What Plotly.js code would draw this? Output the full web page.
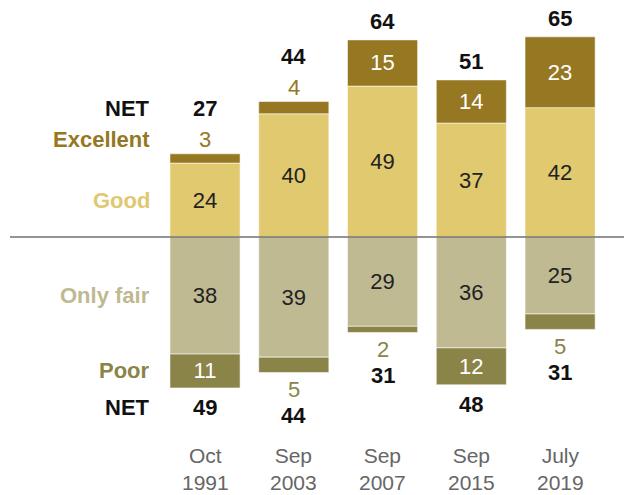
<!DOCTYPE html>
<html>
<head>
<meta charset="utf-8">
<script src="https://cdn.plot.ly/plotly-3.0.1.min.js"></script>
<style>html,body{margin:0;padding:0;background:#fff;}#chart{width:624px;height:495px;}</style>
</head>
<body>
<div id="chart"></div>
<script>
// ---- data ----
var months = ["Oct", "Sep", "Sep", "Sep", "July"];
var years = ["1991", "2003", "2007", "2015", "2019"];
var excellent = [3, 4, 15, 14, 23];
var good = [24, 40, 49, 37, 42];
var onlyFair = [38, 39, 29, 36, 25];
var poor = [11, 5, 2, 12, 5];
var netPositive = [27, 44, 64, 51, 65];
var netNegative = [49, 44, 31, 48, 31];

// ---- styles ----
var FONT = "Liberation Sans, Arial, sans-serif";
var C_EXC = "#967823", C_GOOD = "#E0C96E", C_FAIR = "#C0BA92", C_POOR = "#8B8449";
var C_EXC_T = "#957821", C_POOR_T = "#8A8448";
var FS = 22;
var MIN_INSIDE = 10;

var xs = months.map(function (_, i) { return i; });
var neg = function (a) { return a.map(function (v) { return -v; }); };
var insideText = function (a) { return a.map(function (v) { return v >= MIN_INSIDE ? String(v) : " "; }); };

function barTrace(name, vals, color, textColor, isNeg) {
  return {
    type: "bar", name: name, x: xs, y: isNeg ? neg(vals) : vals.slice(),
    marker: { color: color, line: { color: "rgba(255,255,255,0.55)", width: 1 } },
    text: insideText(vals), textposition: "inside", insidetextanchor: "middle",
    textfont: { family: FONT, size: FS, color: textColor },
    hoverinfo: "skip"
  };
}

var traces = [
  barTrace("Good", good, C_GOOD, "#222", false),
  barTrace("Excellent", excellent, C_EXC, "#fff", false),
  barTrace("Only fair", onlyFair, C_FAIR, "#222", true),
  barTrace("Poor", poor, C_POOR, "#fff", true)
];

var ann = [];
function addLabel(x, y, text, color, bold, shift, xanchor) {
  ann.push({
    x: x, y: y, xref: "x", yref: "y", text: bold ? "<b>" + text + "</b>" : text,
    showarrow: false, yshift: shift, xanchor: xanchor || "center", yanchor: "middle",
    font: { family: FONT, size: FS, color: color }
  });
}

for (var i = 0; i < xs.length; i++) {
  var posEnd = good[i] + excellent[i];
  var negEnd = -(onlyFair[i] + poor[i]);
  var smallTop = excellent[i] < MIN_INSIDE;
  var smallBot = poor[i] < MIN_INSIDE;
  if (smallTop) addLabel(i, posEnd, String(excellent[i]), C_EXC_T, false, 14);
  addLabel(i, posEnd, String(netPositive[i]), "#111", true, smallTop ? 45 : 18);
  if (smallBot) addLabel(i, negEnd, String(poor[i]), C_POOR_T, false, -17);
  addLabel(i, negEnd, String(netNegative[i]), "#111", true, smallBot ? -43 : -20);
  ann.push({
    x: i, y: 0, xref: "x", yref: "paper", text: months[i] + "<br>" + years[i],
    showarrow: false, yanchor: "middle", yshift: -39,
    font: { family: FONT, size: 21, color: "#666" }
  });
}

// row labels, aligned with first column
var lx = -0.6;
var p0 = good[0] + excellent[0], n0 = -(onlyFair[0] + poor[0]);
addLabel(lx, p0, "NET", "#111", true, excellent[0] < MIN_INSIDE ? 45 : 18, "right");
addLabel(lx, p0, "Excellent", C_EXC_T, true, 14, "right");
addLabel(lx, good[0] / 2, "Good", "#E0C870", true, 0, "right");
addLabel(lx, -onlyFair[0] / 2, "Only fair", "#BFB991", true, 0, "right");
addLabel(lx, -(onlyFair[0] + poor[0] / 2), "Poor", C_POOR_T, true, 0, "right");
addLabel(lx, n0, "NET", "#111", true, -20, "right");

var layout = {
  width: 624, height: 495,
  margin: { l: 10, r: 0, t: 10, b: 65 },
  barmode: "relative", bargap: 0.21,
  showlegend: false,
  paper_bgcolor: "#fff", plot_bgcolor: "#fff",
  xaxis: { range: [-2.197, 4.72], showgrid: false, zeroline: false, showticklabels: false, ticks: "" },
  yaxis: { range: [-62.66, 73.7], showgrid: false, zeroline: false, showticklabels: false, ticks: "" },
  shapes: [{ type: "line", xref: "paper", x0: 0, x1: 1, yref: "y", y0: 0, y1: 0, layer: "above",
    line: { color: "#707070", width: 1.5 } }],
  annotations: ann
};

Plotly.newPlot("chart", traces, layout, { displayModeBar: false });
</script>
</body>
</html>
